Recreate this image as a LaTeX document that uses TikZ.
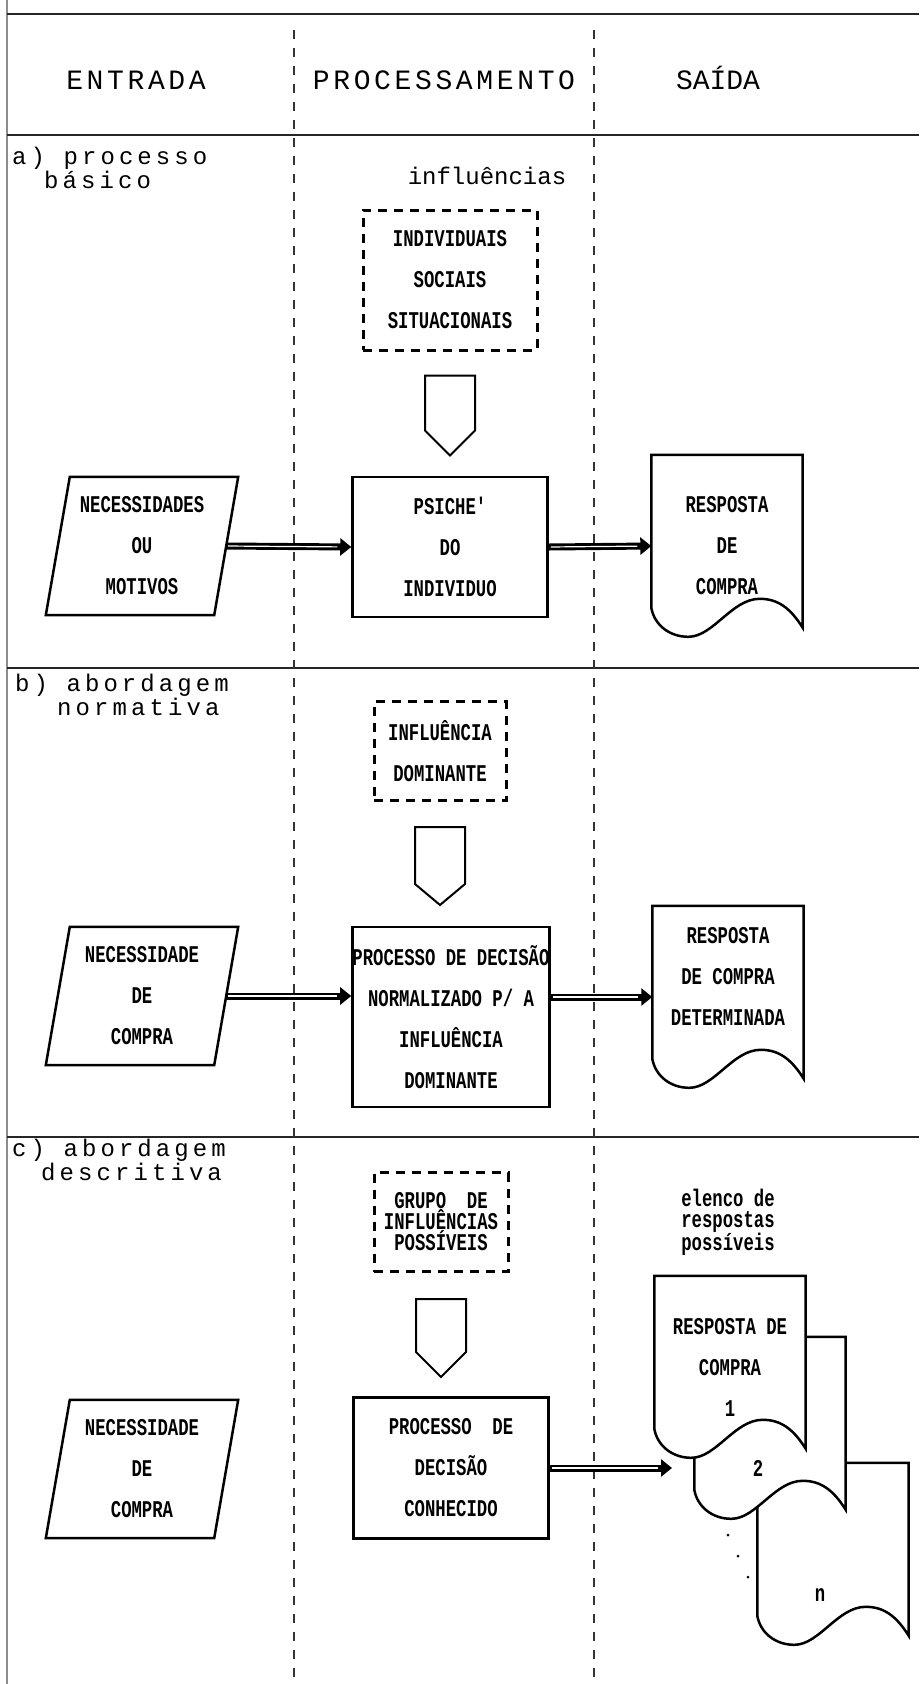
\documentclass[tikz,border=0pt]{standalone}
\usepackage{fontspec}
\setmainfont{Liberation Mono}
\newfontfamily\hdrfam[LetterSpace=13]{Liberation Mono}
\newfontfamily\outfam{Liberation Mono}
\newfontfamily\secfam[LetterSpace=17]{Liberation Mono}
\newfontfamily\boxfam[FakeStretch=0.72]{Liberation Mono}
\newcommand{\hdrtxt}{\hdrfam\fontsize{28}{32}\selectfont}
\newcommand{\outtxt}{\outfam\fontsize{28}{32}\selectfont}
\newcommand{\sectxt}{\secfam\fontsize{24}{18}\selectfont}
\newcommand{\infltxt}{\rmfamily\fontsize{24}{28}\selectfont}
\newcommand{\boxtxt}{\boxfam\bfseries\fontsize{24}{41}\selectfont}
\newcommand{\tighttxt}{\boxfam\bfseries\fontsize{24}{21}\selectfont}
\usetikzlibrary{shapes.symbols, arrows.meta, positioning, backgrounds}
\tikzstyle{inbox} = [rectangle, minimum width=168pt, minimum height=138pt, inner sep=0pt, align=center, font=\boxtxt]
\tikzstyle{inline} = [draw=black, line width=2.5pt, line join=miter]
\tikzstyle{procbox} = [rectangle, minimum width=195pt, minimum height=140pt, inner sep=0pt, align=center, draw=black, line width=2.5pt, font=\boxtxt]
\tikzstyle{inflbox} = [rectangle, inner sep=0pt, align=center, draw=black, line width=3pt, dash pattern=on 9pt off 7pt, font=\boxtxt]
\tikzstyle{pushdown} = [signal, signal to=south, signal from=nowhere, signal pointer angle=90, minimum width=50pt, minimum height=55pt, inner sep=0pt, draw=black, line width=2pt]
\tikzstyle{docbox} = [rectangle, minimum width=151pt, minimum height=182pt, inner sep=0pt, align=center, font=\boxtxt]
\tikzstyle{docline} = [draw=black, line width=2.5pt, fill=white]
\tikzstyle{dblarrow} = [line width=7pt, -{Triangle[length=11pt, width=17pt]}, postaction={draw=white, line width=1.2pt, -, shorten <=2pt, shorten >=14pt}]
\tikzstyle{lane} = [black!80, line width=1.3pt, dash pattern=on 9pt off 9pt]
\tikzstyle{rowline} = [black!85, line width=2.5pt]
% slanted outline of an input box
\newcommand{\inoutline}[1]{%
  \draw[inline] ([xshift=-12pt]#1.south west) -- ([xshift=-12pt]#1.south east)
    -- ([xshift=12pt]#1.north east) -- ([xshift=12pt]#1.north west) -- cycle;}
% outline of a document symbol round a docbox node
\newcommand{\docoutline}[1]{%
  \begin{scope}[on background layer]
  \draw[docline] (#1.north west) -- (#1.north east) -- ([shift={(0,173)}]#1.north east)
    .. controls ([shift={(-13,152)}]#1.north east) and ([shift={(-26,144)}]#1.north east) .. ([shift={(-43,144)}]#1.north east)
    .. controls ([shift={(-71,144)}]#1.north east) and ([shift={(62,182)}]#1.north west) .. ([shift={(37,182)}]#1.north west)
    .. controls ([shift={(18,182)}]#1.north west) and ([shift={(3,170)}]#1.north west) .. ([shift={(0,153)}]#1.north west)
    -- cycle;
  \end{scope}}

\begin{document}
\begin{tikzpicture}[x=1pt, y=-1pt]
\useasboundingbox (0,0) rectangle (919,1684);
% Frame
\draw[black!45, line width=2pt] (7,0) -- (7,1684);
\draw[rowline] (7,14) -- (919,14);
\draw[rowline] (7,135) -- (919,135);
\draw[rowline] (7,668) -- (919,668);
\draw[rowline] (7,1137) -- (919,1137);
\draw[lane] (294,30) -- (294,1684);
\draw[lane] (594,30) -- (594,1684);
% Header
\node (hIn) [font=\hdrtxt, anchor=base] at (136,89) {ENTRADA};
\node (hProc) [font=\hdrtxt, anchor=base] at (444,89) {PROCESSAMENTO};
\node (hOut) [font=\outtxt, anchor=base] at (718,89) {SAÍDA};

% Row a
\node (labA) [font=\sectxt, anchor=base west, align=left, inner sep=0pt] at (12,188) {a) processo\\\hspace*{32pt}básico};
\node (inflLbl) [font=\infltxt, anchor=base] at (487,184) {influências};
\node (inflA) [inflbox, minimum width=174pt, minimum height=140pt] at (450,280) {INDIVIDUAIS\\SOCIAIS\\SITUACIONAIS};
\node (pushA) [pushdown, below=23pt of inflA] {};
\node (psiA) [procbox] at (450,547) {PSICHE'\\DO\\INDIVIDUO};
\node (needA) [inbox] at (142,546) {NECESSIDADES\\OU\\MOTIVOS};
\inoutline{needA}
\node (respA) [docbox] at (727,546) {RESPOSTA\\DE\\COMPRA};
\docoutline{respA}
\draw[dblarrow] (needA.east) -- (psiA.west);
\draw[dblarrow] (psiA.east) -- (respA.west);

% Row b
\node (labB) [font=\sectxt, anchor=base west, align=left, inner sep=0pt] at (15,715) {b) abordagem\\\hspace*{42pt}normativa};
\node (inflB) [inflbox, minimum width=132pt, minimum height=99pt] at (440,751) {INFLUÊNCIA\\DOMINANTE};
\node (pushB) [pushdown, signal pointer angle=100, minimum height=57pt, below=24pt of inflB] {};
\node (procB) [procbox, minimum height=180pt] at (451,1017) {PROCESSO DE DECISÃO\\NORMALIZADO P/ A\\INFLUÊNCIA\\DOMINANTE};
\node (needB) [inbox] at (142,996) {NECESSIDADE\\DE\\COMPRA};
\inoutline{needB}
\node (respB) [docbox] at (728,997) {RESPOSTA\\DE COMPRA\\DETERMINADA\\~};
\docoutline{respB}
\draw[dblarrow] (needB.east) -- (needB.east -| procB.west);
\draw[dblarrow] (respB.west -| procB.east) -- (respB.west);

% Row c
\node (labC) [font=\sectxt, anchor=base west, align=left, inner sep=0pt] at (12,1180) {c) abordagem\\\hspace*{29pt}descritiva};
\node (inflC) [inflbox, minimum width=134pt, minimum height=99pt, font=\tighttxt] at (441,1222) {GRUPO\ \ DE\\INFLUÊNCIAS\\POSSÍVEIS};
\node (pushC) [pushdown, minimum height=53pt, below=25pt of inflC] {};
\node (procC) [procbox, minimum height=141pt] at (451,1468) {PROCESSO\ \ DE\\DECISÃO\\CONHECIDO};
\node (needC) [inbox] at (142,1469) {NECESSIDADE\\DE\\COMPRA};
\inoutline{needC}
\node (listLbl) [font=\tighttxt, align=center] at (728,1222) {elenco de\\respostas\\possíveis};
\node (respCthree) [docbox] at (833,1554) {};
\docoutline{respCthree}
\node (numN) [font=\boxtxt] at ([shift={(-13,41)}]respCthree.center) {n};
\node (respCtwo) [docbox] at (770,1428) {};
\docoutline{respCtwo}
\node (numTwo) [font=\boxtxt] at ([shift={(-12,40)}]respCtwo.center) {2};
\node (respCone) [docbox] at (730,1367) {RESPOSTA DE\\COMPRA\\1};
\docoutline{respCone}
\coordinate (listIn) at (672,1468);
\draw[dblarrow] (procC.east) -- (listIn);
\foreach \px/\py in {728/1535, 738/1556, 748/1577}
  \fill (\px,\py) circle (1.5pt);
\end{tikzpicture}
\end{document}
